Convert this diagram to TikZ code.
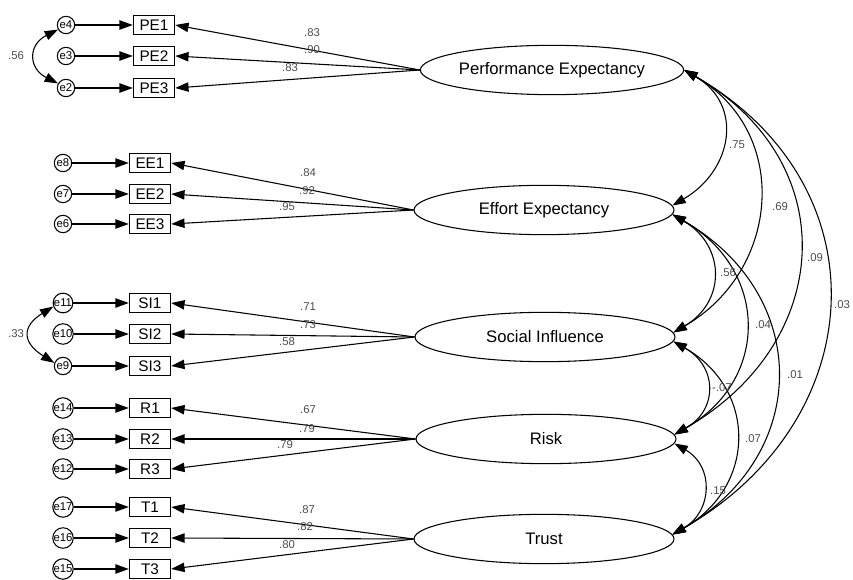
\documentclass[tikz,border=0pt]{standalone}
\usepackage{fontspec}
\setmainfont{Liberation Sans}
\usetikzlibrary{arrows.meta,shapes.geometric}

\tikzset{
  latent/.style={draw, ellipse, line width=0.8pt, minimum width=195pt, minimum height=37pt, inner sep=0pt, font=\fontsize{12.5}{14}\selectfont},
  obsbox/.style={draw, rectangle, line width=0.8pt, minimum width=31pt, minimum height=14pt, inner sep=0pt, font=\fontsize{11.5}{13}\selectfont},
  errc/.style={draw, circle, line width=0.8pt, minimum size=13pt, inner sep=0pt, font=\fontsize{8.5}{9}\selectfont},
  coef/.style={inner sep=0pt, text=black!70, font=\fontsize{8.5}{9}\selectfont},
  reg/.style={line width=0.8pt, -{Triangle[length=10pt,width=7pt]}},
  cov/.style={line width=0.8pt, {Triangle[length=10pt,width=7pt]}-{Triangle[length=10pt,width=7pt]}}
}

\begin{document}
\begin{tikzpicture}[x=0.75pt,y=0.75pt,yscale=-1,xscale=1]
\useasboundingbox (0,0) rectangle (853,580);

%Shape: Ellipse
\node[latent] (pe) at (552,70) {Performance Expectancy};
\node[latent] (ee) at (544,210) {Effort Expectancy};
\node[latent] (si) at (545,337) {Social Influence};
\node[latent] (rk) at (546,439) {Risk};
\node[latent] (tr) at (544,539) {Trust};

%Shape: Rectangle
\node[obsbox] (pe1) at (154,25) {PE1};
\node[obsbox] (pe2) at (154,56) {PE2};
\node[obsbox] (pe3) at (154,88) {PE3};
\node[obsbox] (ee1) at (150,163) {EE1};
\node[obsbox] (ee2) at (150,194) {EE2};
\node[obsbox] (ee3) at (150,224) {EE3};
\node[obsbox] (si1) at (150,303) {SI1};
\node[obsbox] (si2) at (150,334) {SI2};
\node[obsbox] (si3) at (150,366) {SI3};
\node[obsbox] (r1) at (150,408) {R1};
\node[obsbox] (r2) at (150,439) {R2};
\node[obsbox] (r3) at (150,469) {R3};
\node[obsbox] (t1) at (150,507) {T1};
\node[obsbox] (t2) at (150,538) {T2};
\node[obsbox] (t3) at (150,569) {T3};

%Shape: Circle
\node[errc] (e4) at (66,25) {e4};
\node[errc] (e3) at (66,56) {e3};
\node[errc] (e2) at (66,88) {e2};
\node[errc] (e8) at (63,163) {e8};
\node[errc] (e7) at (63,194) {e7};
\node[errc] (e6) at (63,224) {e6};
\node[errc] (e11) at (63,303) {e11};
\node[errc] (e10) at (63,334) {e10};
\node[errc] (e9) at (63,366) {e9};
\node[errc] (e14) at (63,408) {e14};
\node[errc] (e13) at (63,439) {e13};
\node[errc] (e12) at (63,469) {e12};
\node[errc] (e17) at (63,507) {e17};
\node[errc] (e16) at (63,538) {e16};
\node[errc] (e15) at (63,569) {e15};

%Straight Lines
\draw[reg] (pe.west) -- (pe1.east);
\draw[reg] (pe.west) -- (pe2.east);
\draw[reg] (pe.west) -- (pe3.east);
\draw[reg] (ee.west) -- (ee1.east);
\draw[reg] (ee.west) -- (ee2.east);
\draw[reg] (ee.west) -- (ee3.east);
\draw[reg] (si.west) -- (si1.east);
\draw[reg] (si.west) -- (si2.east);
\draw[reg] (si.west) -- (si3.east);
\draw[reg] (rk.west) -- (r1.east);
\draw[reg] (rk.west) -- (r2.east);
\draw[reg] (rk.west) -- (r3.east);
\draw[reg] (tr.west) -- (t1.east);
\draw[reg] (tr.west) -- (t2.east);
\draw[reg] (tr.west) -- (t3.east);

%Straight Lines
\draw[reg] (e4) -- (pe1);
\draw[reg] (e3) -- (pe2);
\draw[reg] (e2) -- (pe3);
\draw[reg] (e8) -- (ee1);
\draw[reg] (e7) -- (ee2);
\draw[reg] (e6) -- (ee3);
\draw[reg] (e11) -- (si1);
\draw[reg] (e10) -- (si2);
\draw[reg] (e9) -- (si3);
\draw[reg] (e14) -- (r1);
\draw[reg] (e13) -- (r2);
\draw[reg] (e12) -- (r3);
\draw[reg] (e17) -- (t1);
\draw[reg] (e16) -- (t2);
\draw[reg] (e15) -- (t3);

%Curve Lines
\draw[cov] (e4.210) .. controls +(-30,15) and +(-30,-15) .. (e2.150);
\draw[cov] (e11.200) .. controls +(-32,20) and +(-32,-20) .. (e9.160);

%Curve Lines
\draw[cov] (pe.east) .. controls +(60,35) and +(60,-35) .. (ee.2);
\draw[cov] (pe.east) .. controls +(107,62) and +(107,-62) .. (si.2);
\draw[cov] (pe.east) .. controls +(160,92) and +(160,-92) .. (rk.2);
\draw[cov] (pe.east) .. controls +(200,115) and +(200,-115) .. (tr.2);
\draw[cov] (ee.-2) .. controls +(53,31) and +(53,-31) .. (si.2);
\draw[cov] (ee.-2) .. controls +(96,55) and +(96,-55) .. (rk.2);
\draw[cov] (ee.-2) .. controls +(139,80) and +(139,-80) .. (tr.2);
\draw[cov] (si.-2) .. controls +(44,25) and +(44,-25) .. (rk.2);
\draw[cov] (si.-2) .. controls +(84,48) and +(84,-48) .. (tr.2);
\draw[cov] (rk.-2) .. controls +(40,23) and +(40,-23) .. (tr.2);

% Text Node
\node[coef] (lpe1) at (312,33) {.83};
\node[coef] (lpe2) at (312,50) {.90};
\node[coef] (lpe3) at (290,68) {.83};
\node[coef] (lee1) at (308,173) {.84};
\node[coef] (lee2) at (307,191) {.92};
\node[coef] (lee3) at (287,207) {.95};
\node[coef] (lsi1) at (308,307) {.71};
\node[coef] (lsi2) at (308,325) {.73};
\node[coef] (lsi3) at (287,342) {.58};
\node[coef] (lr1) at (308,410) {.67};
\node[coef] (lr2) at (307,429) {.79};
\node[coef] (lr3) at (285,445) {.79};
\node[coef] (lt1) at (307,510) {.87};
\node[coef] (lt2) at (305,527) {.82};
\node[coef] (lt3) at (287,545) {.80};
% Text Node
\node[coef] (lcpe) at (16,56) {.56};
\node[coef] (lcsi) at (16,334) {.33};
% Text Node
\node[coef] (lpeee) at (737,145) {.75};
\node[coef] (lpesi) at (780,207) {.69};
\node[coef] (lperk) at (815,258) {.09};
\node[coef] (lpetr) at (842,305) {.03};
\node[coef] (leesi) at (728,273) {.56};
\node[coef] (leerk) at (763,325) {.04};
\node[coef] (leetr) at (795,375) {.01};
\node[coef] (lsirk) at (722,388) {-.07};
\node[coef] (lsitr) at (753,439) {.07};
\node[coef] (lrktr) at (718,491) {.15};

\end{tikzpicture}
\end{document}
